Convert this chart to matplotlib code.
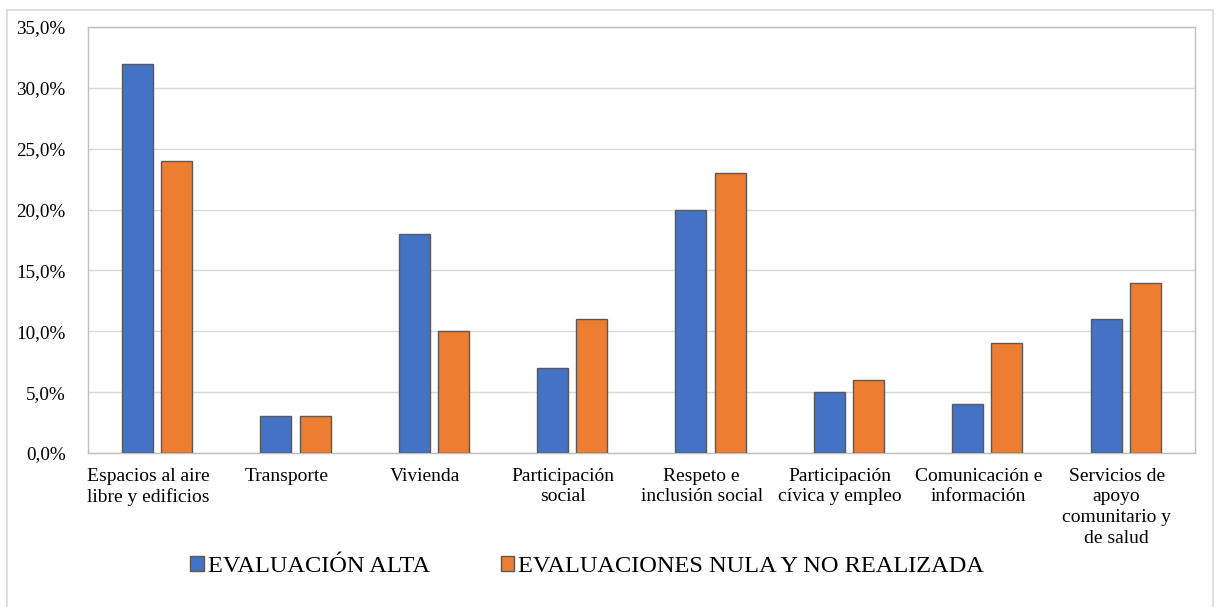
import numpy as np
import matplotlib.pyplot as plt
from matplotlib.patches import Rectangle
from matplotlib.transforms import ScaledTranslation
from matplotlib.ticker import FuncFormatter

categories = ["Espacios al aire\nlibre y edificios", "Transporte", "Vivienda",
              "Participación\nsocial", "Respeto e\ninclusión social",
              "Participación\ncívica y empleo", "Comunicación e\ninformación",
              "Servicios de\napoyo\ncomunitario y\nde salud"]
alta = [32, 3, 18, 7, 20, 5, 4, 11]
nula = [24, 3, 10, 11, 23, 6, 9, 14]
series_names = ["EVALUACIÓN ALTA", "EVALUACIONES NULA Y NO REALIZADA"]

plt.rcParams['font.family'] = ['Liberation Serif', 'DejaVu Serif']

fig = plt.figure(figsize=(12.18, 6.07), dpi=100)
ax = fig.add_axes([0.0722, 0.2537, 0.9088, 0.7018])

# outer chart border
fig.patches.append(Rectangle((0.006, -0.01), 0.99, 0.993, transform=fig.transFigure,
                             fill=False, edgecolor="#d9d9d9", linewidth=1.2))

x = np.arange(len(categories))
w = 0.224
off = 0.142
ax.bar(x - off, alta, w, color="#4472c4", edgecolor="#595959", linewidth=1, label=series_names[0], zorder=3)
ax.bar(x + off, nula, w, color="#ed7d31", edgecolor="#595959", linewidth=1, label=series_names[1], zorder=3)

ax.set_xlim(-0.5, len(categories) - 0.5)
ax.set_ylim(0, 35)
ax.set_yticks(np.arange(0, 36, 5))
ax.yaxis.set_major_formatter(FuncFormatter(lambda v, p: f"{v:.1f}%".replace(".", ",")))
ax.grid(axis="y", color="#d9d9d9", linewidth=1, zorder=0)
for s in ax.spines.values():
    s.set_color("#bfbfbf")
    s.set_linewidth(1)
ax.tick_params(length=0, colors="black")
ax.tick_params(axis="y", pad=16, labelsize=13.8)
ax.tick_params(axis="x", pad=10.5, labelsize=14)
ax.set_xticks(x)
ax.set_xticklabels(categories, linespacing=1.28)
# category labels sit a little left of the bar groups
shift = ScaledTranslation(-0.09, 0, fig.dpi_scale_trans)
for lab in ax.get_xticklabels():
    lab.set_transform(lab.get_transform() + shift)

fig.legend(loc="center", bbox_to_anchor=(0.482, 0.066), ncol=2, frameon=False,
           fontsize=17.6, handlelength=0.55, handleheight=0.55, handletextpad=0.15,
           columnspacing=2.9)

fig.savefig("out.png", dpi=100)
